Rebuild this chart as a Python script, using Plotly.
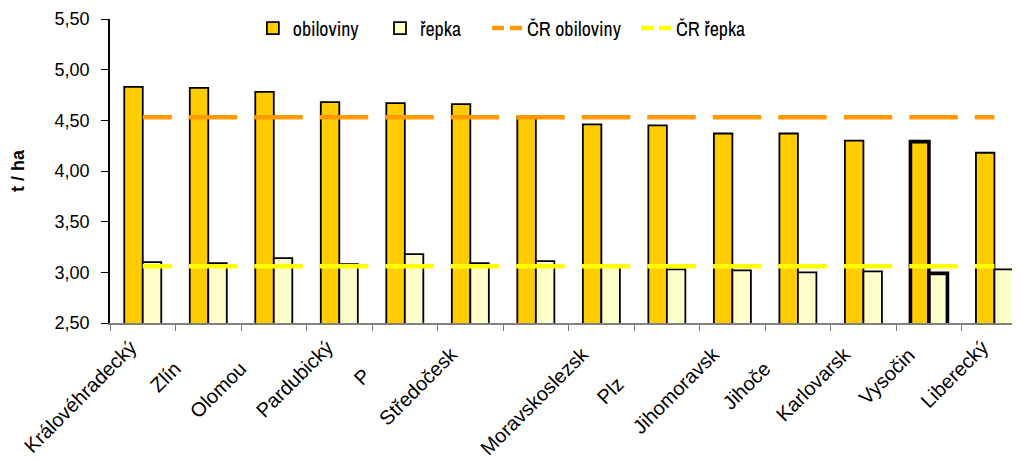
import plotly.graph_objects as go

# ---- data ----
regions = ["Královéhradecký", "Zlínský", "Olomoucký", "Pardubický", "Praha",
           "Středočeský", "Ústecký", "Moravskoslezský", "Plzeňský", "Jihomoravský",
           "Jihočeský", "Karlovarský", "Vysočina", "Liberecký"]
# visible part of each axis label / part hidden in the original picture
label_visible = ["Královéhradecký", "Zlín", "Olomou", "Pardubický", "P",
                 "Středočesk", "", "Moravskoslezsk", "Plz", "Jihomoravsk",
                 "Jihoče", "Karlovarsk", "Vysočin", "Liberecký"]
label_hidden = ["", "ský", "cký", "", "raha",
                "ý", "", "ý", "eňský", "ý",
                "ský", "ý", "a", ""]
obiloviny = [4.83, 4.82, 4.78, 4.68, 4.67, 4.66, 4.54, 4.46, 4.45, 4.37, 4.37, 4.30, 4.29, 4.18]
repka = [3.10, 3.09, 3.14, 3.08, 3.18, 3.09, 3.11, 3.06, 3.03, 3.02, 3.00, 3.01, 2.99, 3.03]
cr_obiloviny = 4.53
cr_repka = 3.06
highlight = "Vysočina"

y_ticks = [2.5, 3.0, 3.5, 4.0, 4.5, 5.0, 5.5]

# ---- styling ----
FONT = "Liberation Sans, Arial, sans-serif"
LEG_FONT = "Archivo Narrow, Liberation Sans Narrow, Arial Narrow, Liberation Sans, sans-serif"
border = [3.6 if r == highlight else 1.8 for r in regions]

ticktext = [v + (f"<span style='color:rgba(0,0,0,0)'>{h}</span>" if h else "")
            for v, h in zip(label_visible, label_hidden)]

dash_pattern = "29px,17px," + ",".join(["48.5px,17px"] * 13)

fig = go.Figure()
fig.add_trace(go.Bar(x=regions, y=obiloviny, name="obiloviny", legend="legend",
                     marker=dict(color="#FFCC00", line=dict(color="black", width=border))))
fig.add_trace(go.Bar(x=regions, y=repka, name="řepka", legend="legend2",
                     marker=dict(color="#FFFFCC", line=dict(color="black", width=border))))
fig.add_trace(go.Scatter(x=regions, y=[cr_obiloviny] * len(regions), mode="lines",
                         line=dict(color="#FF9900", width=4.5, dash=dash_pattern),
                         showlegend=False, hoverinfo="skip"))
fig.add_trace(go.Scatter(x=regions, y=[cr_repka] * len(regions), mode="lines",
                         line=dict(color="#FFFF00", width=4.5, dash=dash_pattern),
                         showlegend=False, hoverinfo="skip"))
fig.add_trace(go.Scatter(x=[None], y=[None], mode="lines", name="ČR obiloviny", legend="legend3",
                         line=dict(color="#FF9900", width=4.5, dash="12px,6px")))
fig.add_trace(go.Scatter(x=[None], y=[None], mode="lines", name="ČR řepka", legend="legend4",
                         line=dict(color="#FFFF00", width=4.5, dash="12px,6px")))

leg_common = dict(orientation="h", xanchor="left", y=0.97, yanchor="middle",
                  bgcolor="rgba(0,0,0,0)", font=dict(family=LEG_FONT, size=20))

# the page body adds an 8px offset, so the figure is 8px smaller than the window
fig.update_layout(
    width=1012, height=453,
    margin=dict(l=102, r=0, t=11, b=138, autoexpand=False),
    paper_bgcolor="white", plot_bgcolor="white",
    barmode="group", bargap=0.435, bargroupgap=0,
    separators=", ",
    font=dict(family=FONT, color="black", size=18),
    showlegend=True,
    legend=dict(x=0.157, **leg_common),
    legend2=dict(x=0.2967, **leg_common),
    legend3=dict(x=0.4143, **leg_common),
    legend4=dict(x=0.578, **leg_common),
)
fig.update_xaxes(type="category", categoryorder="array", categoryarray=regions,
                 range=[-0.5, 13.39], tickmode="array", tickvals=regions, ticktext=ticktext,
                 tickangle=-45, tickson="boundaries", ticks="outside", ticklen=6,
                 tickcolor="#808080", showline=True, linecolor="#808080", linewidth=1.5,
                 showgrid=False, automargin=False, ticklabelshift=-12, ticklabelstandoff=3,
                 tickfont=dict(family=FONT, size=20, color="black"))
fig.update_yaxes(range=[2.5, 5.5], tickmode="array", tickvals=y_ticks, tickformat=".2f",
                 ticks="outside", ticklen=7, tickcolor="black", showline=True,
                 linecolor="black", linewidth=1.5, showgrid=False, zeroline=False,
                 automargin=False, ticklabelstandoff=8,
                 tickfont=dict(family=FONT, size=18, color="black"),
                 title=dict(text="<b>t / ha</b>", font=dict(family=FONT, size=18), standoff=25))

fig.write_html("out.html")
